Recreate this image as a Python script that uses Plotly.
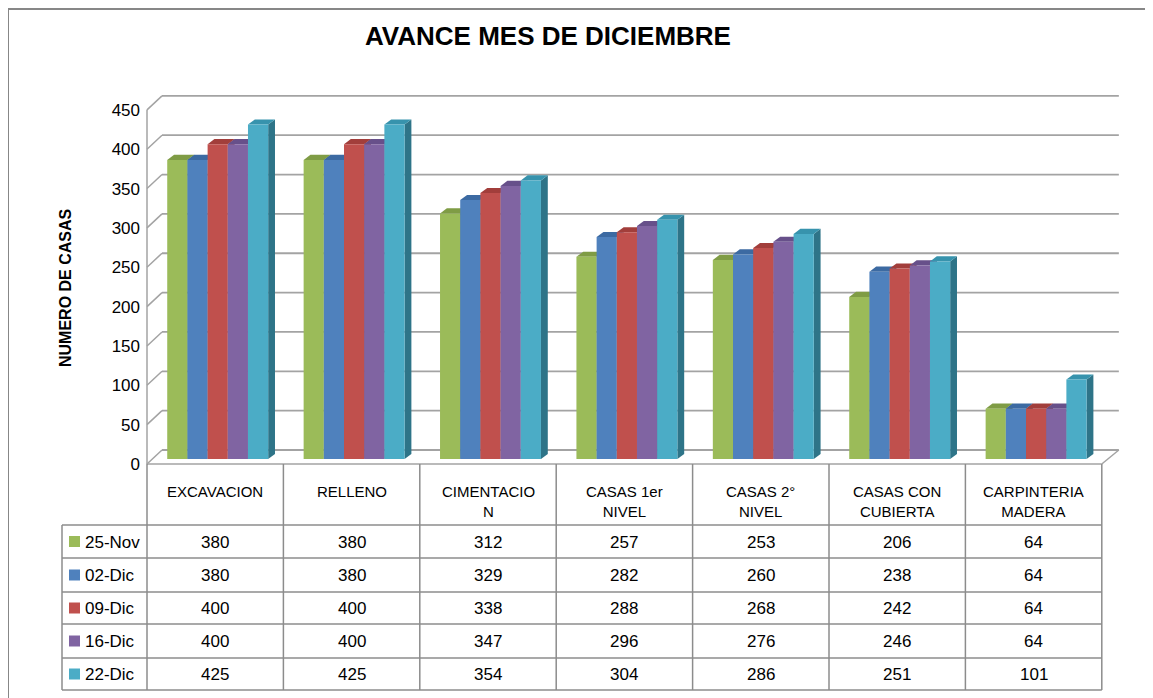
import plotly.graph_objects as go

# ---------------- data ----------------
categories = ["EXCAVACION", "RELLENO", "CIMENTACION", "CASAS 1er NIVEL",
              "CASAS 2° NIVEL", "CASAS CON CUBIERTA", "CARPINTERIA MADERA"]
header_labels = ["EXCAVACION", "RELLENO", "CIMENTACIO<br>N", "CASAS 1er<br>NIVEL",
                 "CASAS 2°<br>NIVEL", "CASAS CON<br>CUBIERTA", "CARPINTERIA<br>MADERA"]
series_names = ["25-Nov", "02-Dic", "09-Dic", "16-Dic", "22-Dic"]
s_25nov = [380, 380, 312, 257, 253, 206, 64]
s_02dic = [380, 380, 329, 282, 260, 238, 64]
s_09dic = [400, 400, 338, 288, 268, 242, 64]
s_16dic = [400, 400, 347, 296, 276, 246, 64]
s_22dic = [425, 425, 354, 304, 286, 251, 101]
y_ticks = [0, 50, 100, 150, 200, 250, 300, 350, 400, 450]

series_values = [s_25nov, s_02dic, s_09dic, s_16dic, s_22dic]

# ---------------- styles ----------------
front_colors = ["#9BBB59", "#4F81BD", "#C0504D", "#8064A2", "#4BACC6"]
top_colors = ["#7F9C45", "#3C6AA2", "#A23E3B", "#67508A", "#3793AD"]
side_colors = ["#6B8538", "#2F5786", "#8A3431", "#564272", "#2E7488"]
GRID = "#A3A3A3"
TABLE_LINE = "#8C8C8C"
FONT = "Liberation Sans, Arial, sans-serif"

W, H = 1153, 698
OFF = 8  # page body margin of the html page
# pixel geometry (screen coordinates) of plot area
L, R, T, B = 143, 1121, 94, 468
X0PX, Y0PX = 147, 464          # screen pixel of x=0 and y=0 (front plane)
SX, SY = 136.4, 0.787          # px per unit
xmin = (L - X0PX) / SX
xmax = (R - X0PX) / SX
ymin = -(B - Y0PX) / SY
ymax = (Y0PX - T) / SY

# bars stand slightly behind the front plane (3D depth)
BAR_SHIFT_X, BAR_SHIFT_Y = 2.5 / SX, 5.0 / SY

ncat = len(categories)
nser = len(series_names)
BARGAP = 0.26
bw = (1 - BARGAP) / nser

# 3D offsets (data units)
DXW_L, DXW_R, DYW = 0.11, 0.125, 17.8   # wall depth
DDX, DDY = 0.05, 6.5                    # bar depth


def paper_x(xd):
    return (xd - xmin) / (xmax - xmin)


def ppx(xp):
    return (xp - L) / (R - L)


def ppy(yp):
    return (B - yp) / (B - T)


fig = go.Figure()
x_cat = [k + 0.5 for k in range(ncat)]
for j in range(nser):
    fig.add_trace(go.Bar(
        x=x_cat, y=series_values[j], name=series_names[j],
        xaxis="x2", yaxis="y2",
        marker=dict(color=front_colors[j], line=dict(width=0)),
        showlegend=False, hoverinfo="skip"))

shapes = []
for v in y_ticks:
    shapes.append(dict(type="line", xref="x", yref="y", layer="below",
                       x0=DXW_L, y0=v + DYW, x1=ncat + DXW_R, y1=v + DYW,
                       line=dict(color=GRID, width=1.8)))
    shapes.append(dict(type="line", xref="x", yref="y", layer="below",
                       x0=0, y0=v, x1=DXW_L, y1=v + DYW,
                       line=dict(color=GRID, width=1.5)))
shapes.append(dict(type="line", xref="x", yref="y", layer="below",
                   x0=0, y0=0, x1=0, y1=y_ticks[-1],
                   line=dict(color=GRID, width=1.5)))
shapes.append(dict(type="line", xref="x", yref="y", layer="below",
                   x0=ncat, y0=0, x1=ncat + DXW_R, y1=DYW,
                   line=dict(color=GRID, width=1.5)))
shapes.append(dict(type="line", xref="x", yref="y", layer="below",
                   x0=0, y0=0, x1=ncat, y1=0,
                   line=dict(color=GRID, width=1.5)))

for k in range(ncat):
    for j in range(nser):
        v = series_values[j][k]
        xl = x_cat[k] - (1 - BARGAP) / 2 + j * bw
        xr = xl + bw
        shapes.append(dict(type="path", xref="x2", yref="y2", layer="below",
                           path=f"M {xr},0 L {xr + DDX},{DDY} L {xr + DDX},{v + DDY} L {xr},{v} Z",
                           fillcolor=side_colors[j], line=dict(width=0)))
for k in range(ncat):
    for j in range(nser):
        v = series_values[j][k]
        xl = x_cat[k] - (1 - BARGAP) / 2 + j * bw
        xr = xl + bw
        shapes.append(dict(type="path", xref="x2", yref="y2", layer="below",
                           path=f"M {xl},{v} L {xl + DDX},{v + DDY} L {xr + DDX},{v + DDY} L {xr},{v} Z",
                           fillcolor=top_colors[j], line=dict(width=0)))

# ---------------- data table ----------------
row_lines = [525, 558, 592, 624, 658, 690]
TABLE_LEFT = 62
for k in range(ncat + 1):
    shapes.append(dict(type="line", xref="paper", yref="paper",
                       x0=paper_x(k), y0=ppy(Y0PX), x1=paper_x(k), y1=ppy(row_lines[-1]),
                       line=dict(color=TABLE_LINE, width=1.5)))
shapes.append(dict(type="line", xref="paper", yref="paper",
                   x0=ppx(TABLE_LEFT), y0=ppy(row_lines[0]), x1=ppx(TABLE_LEFT), y1=ppy(row_lines[-1]),
                   line=dict(color=TABLE_LINE, width=1.5)))
for yl in row_lines:
    shapes.append(dict(type="line", xref="paper", yref="paper",
                       x0=ppx(TABLE_LEFT), y0=ppy(yl), x1=paper_x(ncat), y1=ppy(yl),
                       line=dict(color=TABLE_LINE, width=1.5)))

annotations = []
for k in range(ncat):
    annotations.append(dict(xref="x", yref="paper", x=x_cat[k], y=ppy(481),
                            xanchor="center", yanchor="top", showarrow=False,
                            text=header_labels[k], align="center",
                            font=dict(family=FONT, size=15, color="#000000")))
for j in range(nser):
    yc = (row_lines[j] + row_lines[j + 1]) / 2 + 0.5
    shapes.append(dict(type="rect", xref="paper", yref="paper",
                       x0=ppx(69), x1=ppx(80), y0=ppy(yc - 6), y1=ppy(yc + 5),
                       fillcolor=front_colors[j], line=dict(width=0)))
    annotations.append(dict(xref="paper", yref="paper", x=ppx(83), y=ppy(yc),
                            xanchor="left", yanchor="middle", showarrow=False,
                            text=series_names[j],
                            font=dict(family=FONT, size=17, color="#000000")))
    for k in range(ncat):
        annotations.append(dict(xref="x", yref="paper", x=x_cat[k], y=ppy(yc),
                                xanchor="center", yanchor="middle", showarrow=False,
                                text=str(series_values[j][k]),
                                font=dict(family=FONT, size=17, color="#000000")))

annotations.append(dict(xref="paper", yref="paper", x=ppx(65), y=ppy(288),
                        xanchor="center", yanchor="middle", showarrow=False,
                        text="<b>NUMERO DE CASAS</b>", textangle=-90,
                        font=dict(family=FONT, size=16, color="#000000")))

# chart title
annotations.append(dict(xref="paper", yref="paper", x=ppx(548), y=ppy(36),
                        xanchor="center", yanchor="middle", showarrow=False,
                        text="<b>AVANCE MES DE DICIEMBRE</b>",
                        font=dict(family=FONT, size=26, color="#000000")))

shapes.append(dict(type="line", xref="paper", yref="paper",
                   x0=ppx(8), y0=ppy(9), x1=ppx(1170), y1=ppy(9),
                   line=dict(color="#878787", width=2)))
shapes.append(dict(type="line", xref="paper", yref="paper",
                   x0=ppx(8), y0=ppy(9), x1=ppx(8), y1=ppy(720),
                   line=dict(color="#878787", width=2)))

hidden_axis = dict(showgrid=False, zeroline=False, showline=False,
                   showticklabels=False, ticks="", automargin=False, fixedrange=True)

fig.update_layout(
    width=W, height=H, autosize=False,
    # compensate for the page's 8px body margin
    margin=dict(l=L - OFF, r=W - R + OFF, t=T - OFF, b=H - B + OFF, pad=0),
    paper_bgcolor="white", plot_bgcolor="rgba(0,0,0,0)",
    barmode="group", bargap=BARGAP, bargroupgap=0,
    xaxis=dict(range=[xmin, xmax], **hidden_axis),
    yaxis=dict(range=[ymin, ymax], tickvals=y_ticks, ticktext=[str(t) for t in y_ticks],
               showgrid=False, zeroline=False, showline=False, ticks="",
               ticklabelstandoff=2, automargin=False, fixedrange=True,
               tickfont=dict(family=FONT, size=17, color="#000000")),
    xaxis2=dict(range=[xmin - BAR_SHIFT_X, xmax - BAR_SHIFT_X], overlaying="x",
                anchor="y2", **hidden_axis),
    yaxis2=dict(range=[ymin - BAR_SHIFT_Y, ymax - BAR_SHIFT_Y], overlaying="y",
                anchor="x2", **hidden_axis),
    shapes=shapes, annotations=annotations,
    showlegend=False,
)

fig.write_html("out.html")
